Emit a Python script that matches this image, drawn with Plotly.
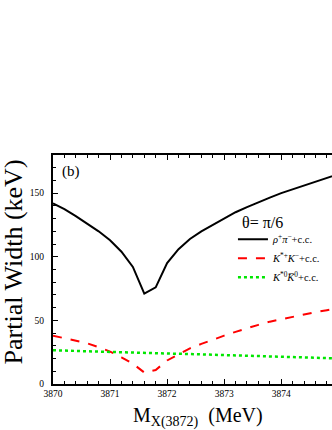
import plotly.graph_objects as go

mass = [3870.0, 3870.2, 3870.4, 3870.6, 3870.8, 3871.0, 3871.2, 3871.4, 3871.6, 3871.8,
        3872.0, 3872.2, 3872.4, 3872.6, 3872.8, 3873.0, 3873.2, 3873.4, 3873.6, 3873.8,
        3874.0, 3874.2, 3874.4, 3874.6, 3874.8, 3875.0]
rho_pi = [142, 137.5, 132, 126, 120, 113, 104, 92, 71, 76,
          95, 106, 114, 120, 125, 130, 135, 139, 143, 146.5,
          150, 153, 156, 159, 162, 165]
kstar_charged = [38, 36, 34, 32, 29, 25.5, 21, 16, 9, 11,
                 18.5, 23.5, 28, 31.5, 35, 38, 41, 44, 46.5, 49,
                 51, 53, 55, 56.5, 58, 59.5]
mass_k0 = [3870.0, 3870.5, 3871.0, 3871.5, 3872.0, 3872.5, 3873.0, 3873.5, 3874.0, 3874.5, 3875.0]
kstar_neutral = [26.5, 26.0, 25.2, 24.6, 24.0, 23.4, 22.8, 22.2, 21.5, 20.8, 20.1]

x_ticks = [3870, 3871, 3872, 3873, 3874, 3875]
y_ticks = [0, 50, 100, 150]

serif = "Liberation Serif, Times New Roman, serif"

fig = go.Figure()
fig.add_trace(go.Scatter(x=mass, y=rho_pi, mode="lines",
                         line=dict(color="black", width=2),
                         name="<i>ρ</i><sup>+</sup><i>π</i><sup>−</sup>+c.c."))
fig.add_trace(go.Scatter(x=mass, y=kstar_charged, mode="lines",
                         line=dict(color="#ff0000", width=2, dash="dash"),
                         name="<i>K</i><sup>*+</sup><i>K</i><sup>−</sup>+c.c."))
fig.add_trace(go.Scatter(x=mass_k0, y=kstar_neutral, mode="lines",
                         line=dict(color="#00e600", width=2.5, dash="dot"),
                         name="<i>K</i><sup>*0</sup><i>K̅</i><sup>0</sup>+c.c."))

axis_common = dict(
    showline=True, linecolor="black", linewidth=2,
    ticks="inside", ticklen=5, tickwidth=1.3, tickcolor="black",
    showgrid=False, zeroline=False,
    tickfont=dict(family=serif, size=9.5, color="black"),
)

fig.update_xaxes(range=[3870, 3874.89], tickvals=x_ticks, mirror="ticks",
                 minor=dict(dtick=0.2, tick0=3870, ticks="inside", ticklen=3,
                            tickwidth=1, tickcolor="black"),
                 **axis_common)
fig.update_yaxes(range=[0, 180], tickvals=y_ticks, mirror=False,
                 ticklabelstandoff=5,
                 minor=dict(dtick=10, tick0=0, ticks="inside", ticklen=3,
                            tickwidth=1, tickcolor="black"),
                 **axis_common)

fig.update_layout(
    width=332, height=430,
    margin=dict(l=53, r=0, t=155, b=46),
    paper_bgcolor="white", plot_bgcolor="white",
    font=dict(family=serif, color="black"),
    showlegend=True,
    legend=dict(x=0.645, y=0.695, xanchor="left", yanchor="top",
                bgcolor="rgba(0,0,0,0)", font=dict(family=serif, size=10.5),
                tracegroupgap=0),
    annotations=[
        dict(text="(b)", x=0.025, y=0.93, xref="paper", yref="paper",
             xanchor="left", yanchor="middle", showarrow=False,
             font=dict(family=serif, size=15)),
        dict(text="θ= π/6", x=0.672, y=0.705, xref="paper", yref="paper",
             xanchor="left", yanchor="middle", showarrow=False,
             font=dict(family=serif, size=16)),
        dict(text="M<sub>X(3872)</sub>  (MeV)", x=0.52, y=-0.08, xref="paper", yref="paper",
             xanchor="center", yanchor="top", showarrow=False,
             font=dict(family=serif, size=20)),
        dict(text="Partial Width (keV)", x=-0.14, y=0.535, xref="paper", yref="paper",
             xanchor="center", yanchor="middle", showarrow=False, textangle=-90,
             font=dict(family=serif, size=26)),
    ],
)

fig.write_html("out.html", config={"displayModeBar": False},
               post_script="document.body.style.margin='0px';")
